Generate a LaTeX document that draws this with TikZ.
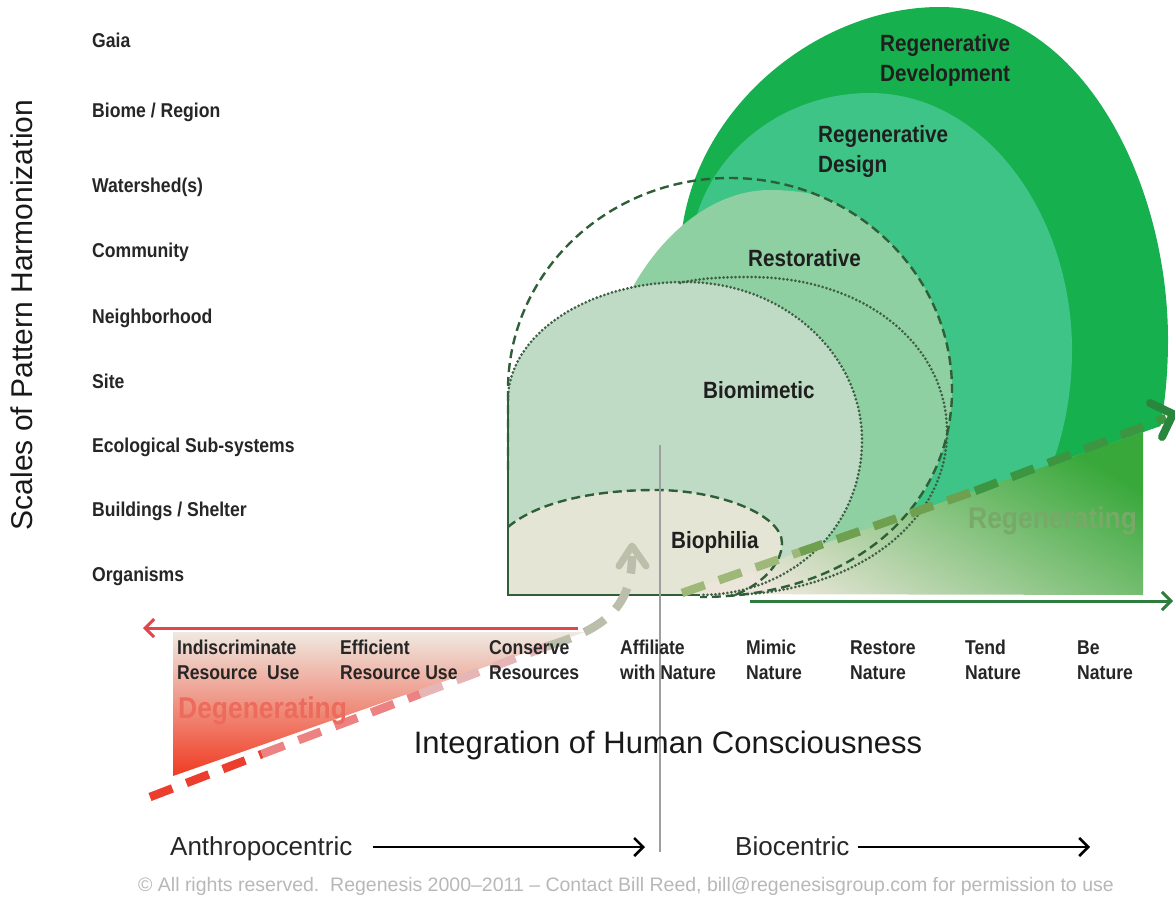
\documentclass[tikz,border=0pt]{standalone}
\usepackage{fontspec}
\setmainfont{Liberation Sans}
\newfontfamily\condf[FakeStretch=0.88]{Liberation Sans}
\usetikzlibrary{arrows.meta}
\definecolor{devg}{HTML}{17B04F}
\definecolor{desg}{HTML}{3EC486}
\definecolor{resg}{HTML}{8FD0A2}
\definecolor{bmg}{HTML}{BFDBC5}
\definecolor{bphc}{HTML}{E5E5D5}
\definecolor{dashg}{HTML}{2F5F37}
\definecolor{dotg}{HTML}{3F5F45}
\definecolor{creamc}{HTML}{ECE6DA}
\definecolor{degtop}{HTML}{EFE9E1}
\definecolor{degmid}{HTML}{F5AE9F}
\definecolor{regg}{HTML}{38A83A}
\definecolor{degr}{HTML}{F03B22}
\definecolor{arrred}{HTML}{E0464B}
\definecolor{arrgreen}{HTML}{2E7D3E}
\definecolor{degtext}{HTML}{EC6B5D}
\definecolor{regtext}{HTML}{78A968}
\definecolor{gdashA}{HTML}{9DB878}
\definecolor{gdashB}{HTML}{6EA050}
\definecolor{gdashC}{HTML}{3C9641}
\definecolor{gchev}{HTML}{28873C}
\definecolor{rdashA}{HTML}{EC3E2E}
\definecolor{rdashB}{HTML}{EC8282}
\definecolor{rdashC}{HTML}{E6B6B6}
\definecolor{greydash}{HTML}{BCBEAC}
\definecolor{greychev}{HTML}{BCC0AA}
\begin{document}
\begin{tikzpicture}[x=1pt,y=-1pt,
  scalelab/.style={anchor=base west, font=\condf\bfseries\fontsize{20}{22}\selectfont, text=black!85, inner sep=0pt},
  stagelab/.style={anchor=base west, align=left, font=\condf\bfseries\fontsize{20}{25}\selectfont, text=black!85, inner sep=0pt},
  ringlab/.style={anchor=base west, align=left, font=\condf\bfseries\fontsize{23.5}{30}\selectfont, text=black!88, inner sep=0pt},
  biglab/.style={font=\fontsize{30}{36}\selectfont, text=black!90, inner sep=0pt},
  centriclab/.style={anchor=base west, font=\fontsize{26}{30}\selectfont, text=black!85, inner sep=0pt},
  flowlab/.style={anchor=base west, font=\condf\bfseries\fontsize{30}{34}\selectfont, inner sep=0pt},
  dashline/.style={draw=dashg, line width=2.4pt, dash pattern=on 9pt off 5pt},
  dotline/.style={draw=dotg, line width=3pt, line cap=round, dash pattern=on 0pt off 4pt},
  thickdash/.style={line width=8.5pt, dash pattern=on 24pt off 15pt},
  chevron/.style={line width=8pt, line cap=round, line join=round},
  axisarrow/.style={line width=3pt, -{Straight Barb[length=9pt,width=18pt]}},
  blackarrow/.style={draw=black, line width=2.6pt, -{Straight Barb[length=9pt,width=18pt]}}
]
\useasboundingbox (0,0) rectangle (1175,902);
\fill[white] (0,0) rectangle (1175,902);

% ---------------- nested green fields ----------------
\begin{scope}
  \clip (500,0) -- (1175,0) -- (1175,421) -- (680,594) -- (500,594) -- cycle;
  \fill[devg] (940,7) .. controls (1080,7) and (1168,180) .. (1168,340)
     .. controls (1168,520) and (1080,640) .. (930,640)
     .. controls (780,640) and (680,440) .. (680,260)
     .. controls (680,120) and (810,7) .. (940,7) -- cycle;
  \fill[desg] (870,93) .. controls (985,93) and (1072,215) .. (1072,350)
     .. controls (1072,480) and (1000,600) .. (880,600)
     .. controls (760,600) and (690,420) .. (690,260)
     .. controls (690,170) and (770,93) .. (870,93) -- cycle;
  \begin{scope}
    \clip (508,595) -- (508,390) .. controls (508,273) and (607,178) .. (730,178)
       .. controls (853,178) and (952,273) .. (952,390)
       .. controls (952,507) and (853,597) .. (720,597) -- cycle;
    \fill[resg] (770,190) .. controls (900,190) and (980,300) .. (980,420)
       .. controls (980,560) and (880,620) .. (770,620)
       .. controls (650,620) and (600,520) .. (600,410)
       .. controls (600,300) and (680,190) .. (770,190) -- cycle;
  \end{scope}
\end{scope}

% biomimetic and biophilia fields
\fill[bmg] (508,595) -- (508,400) .. controls (508,335) and (587,282) .. (685,282)
   .. controls (785,282) and (862,355) .. (862,440)
   .. controls (862,530) and (790,595) .. (700,595) -- cycle;
\fill[bphc] (508,595) -- (508,527) .. controls (540,500) and (600,490) .. (655,490)
   .. controls (720,490) and (782,515) .. (782,543)
   .. controls (782,565) and (760,585) .. (735,595) -- cycle;

% regenerating wedge
\coordinate (rgA) at (680,594);
\coordinate (rgB) at (1143,432);
\coordinate (rgC) at (1143,595);
\shade[bottom color=creamc, top color=regg, shading angle=-30] (rgA) -- (rgB) -- (rgC) -- cycle;

% degenerating wedge
\coordinate (dgA) at (173,632);
\coordinate (dgB) at (173,776);
\coordinate (dgC) at (585,632);
\shade[top color=degtop, middle color=degmid, bottom color=degr] (dgA) -- (dgB) -- (dgC) -- cycle;

% ---------------- outlines ----------------
\draw[dotline] (680,283) .. controls (700,278) and (725,277) .. (750,277)
   .. controls (865,277) and (947,345) .. (947,432)
   .. controls (947,520) and (860,592) .. (730,595);
\draw[dashline] (508,470) -- (508,390) .. controls (508,273) and (607,178) .. (730,178)
   .. controls (853,178) and (952,273) .. (952,390)
   .. controls (952,507) and (853,597) .. (700,597);
\draw[dotline] (508,400) .. controls (508,335) and (587,282) .. (685,282)
   .. controls (785,282) and (862,355) .. (862,440)
   .. controls (862,530) and (790,595) .. (700,595);
\draw[dashline] (508,527) .. controls (540,500) and (600,490) .. (655,490)
   .. controls (720,490) and (782,515) .. (782,543)
   .. controls (782,565) and (760,585) .. (735,595);
\draw[draw=dashg, line width=2.6pt] (508,400) -- (508,595) -- (700,595);

% vertical divider
\coordinate (vtop) at (660,445);
\coordinate (vbot) at (660,852);
\draw[black!38, line width=1.3pt] (vtop) -- (vbot);

% ---------------- dashed trend lines ----------------
\coordinate (g0) at (682,593);
\coordinate (g1) at (800,552);
\coordinate (g2) at (975,491);
\coordinate (g3) at (1166,418);
\draw[thickdash, draw=gdashA] (g0) -- (g1);
\draw[thickdash, draw=gdashB] (g1) -- (g2);
\draw[thickdash, draw=gdashC] (g2) -- (g3);
\coordinate (gtip) at (1173,414);
\coordinate (garm1) at (1150,403);
\coordinate (garm2) at (1162,437);
\draw[chevron, draw=gchev] (garm1) -- (gtip) -- (garm2);

\coordinate (r0) at (150,797);
\coordinate (r1) at (262,754);
\coordinate (r2) at (420,694);
\coordinate (r3) at (548,646);
\coordinate (r4) at (632,556);
\draw[thickdash, draw=rdashA] (r0) -- (r1);
\draw[thickdash, draw=rdashB] (r1) -- (r2);
\draw[thickdash, draw=rdashC] (r2) -- (r3);
\draw[thickdash, draw=greydash] (r3) .. controls (600,630) and (632,610) .. (r4);
\coordinate (ytip) at (632,546);
\coordinate (yarm1) at (619,566);
\coordinate (yarm2) at (646,566);
\draw[chevron, line width=7pt, draw=greychev] (yarm1) -- (ytip) -- (yarm2);

% ---------------- axis arrows ----------------
\coordinate (redS) at (578,628);
\coordinate (redE) at (143,628);
\draw[axisarrow, draw=arrred] (redS) -- (redE);
\coordinate (grnS) at (750,601);
\coordinate (grnE) at (1173,601);
\draw[axisarrow, draw=arrgreen] (grnS) -- (grnE);

% ---------------- ring labels (anchor = baseline of last line) ----------------
\node[ringlab] (lDev) at (880,81) {Regenerative\\Development};
\node[ringlab] (lDes) at (818,172) {Regenerative\\Design};
\node[ringlab] (lRes) at (748,266) {Restorative};
\node[ringlab] (lBmm) at (703,398) {Biomimetic};
\node[ringlab] (lBph) at (671,548) {Biophilia};

\node[flowlab, text=regtext] (lRegen) at (968,528) {Regenerating};
\node[flowlab, text=degtext] (lDegen) at (178,718) {Degenerating};

% ---------------- scale labels ----------------
\node[scalelab] (s1) at (92,47) {Gaia};
\node[scalelab] (s2) at (92,117) {Biome / Region};
\node[scalelab] (s3) at (92,192) {Watershed(s)};
\node[scalelab] (s4) at (92,257) {Community};
\node[scalelab] (s5) at (92,323) {Neighborhood};
\node[scalelab] (s6) at (92,388) {Site};
\node[scalelab] (s7) at (92,452) {Ecological Sub-systems};
\node[scalelab] (s8) at (92,516) {Buildings / Shelter};
\node[scalelab] (s9) at (92,581) {Organisms};

\node[biglab, rotate=90] (yaxis) at (22,315) {Scales of Pattern Harmonization};

% ---------------- stage labels ----------------
\node[stagelab] (t1) at (177,679) {Indiscriminate\\Resource\ \ Use};
\node[stagelab] (t2) at (340,679) {Efficient\\Resource Use};
\node[stagelab] (t3) at (489,679) {Conserve\\Resources};
\node[stagelab] (t4) at (620,679) {Affiliate\\with Nature};
\node[stagelab] (t5) at (746,679) {Mimic\\Nature};
\node[stagelab] (t6) at (850,679) {Restore\\Nature};
\node[stagelab] (t7) at (965,679) {Tend\\Nature};
\node[stagelab] (t8) at (1077,679) {Be\\Nature};

\node[biglab, font=\fontsize{31}{36}\selectfont] (xaxis) at (668,745) {Integration of Human Consciousness};

% ---------------- centric labels ----------------
\node[centriclab] (anth) at (170,855) {Anthropocentric};
\node[centriclab] (bioc) at (735,855) {Biocentric};
\coordinate (aE) at (645,847);
\coordinate (bE) at (1090,847);
\draw[blackarrow] ([xshift=20pt]anth.east |- aE) -- (aE);
\draw[blackarrow] ([xshift=8pt]bioc.east |- bE) -- (bE);

\node[font=\fontsize{19.5}{22}\selectfont, text=black!28, inner sep=0pt] (copy) at (626,886)
  {© All rights reserved.\ \ Regenesis 2000–2011 – Contact Bill Reed, bill@regenesisgroup.com for permission to use};
\end{tikzpicture}
\end{document}
